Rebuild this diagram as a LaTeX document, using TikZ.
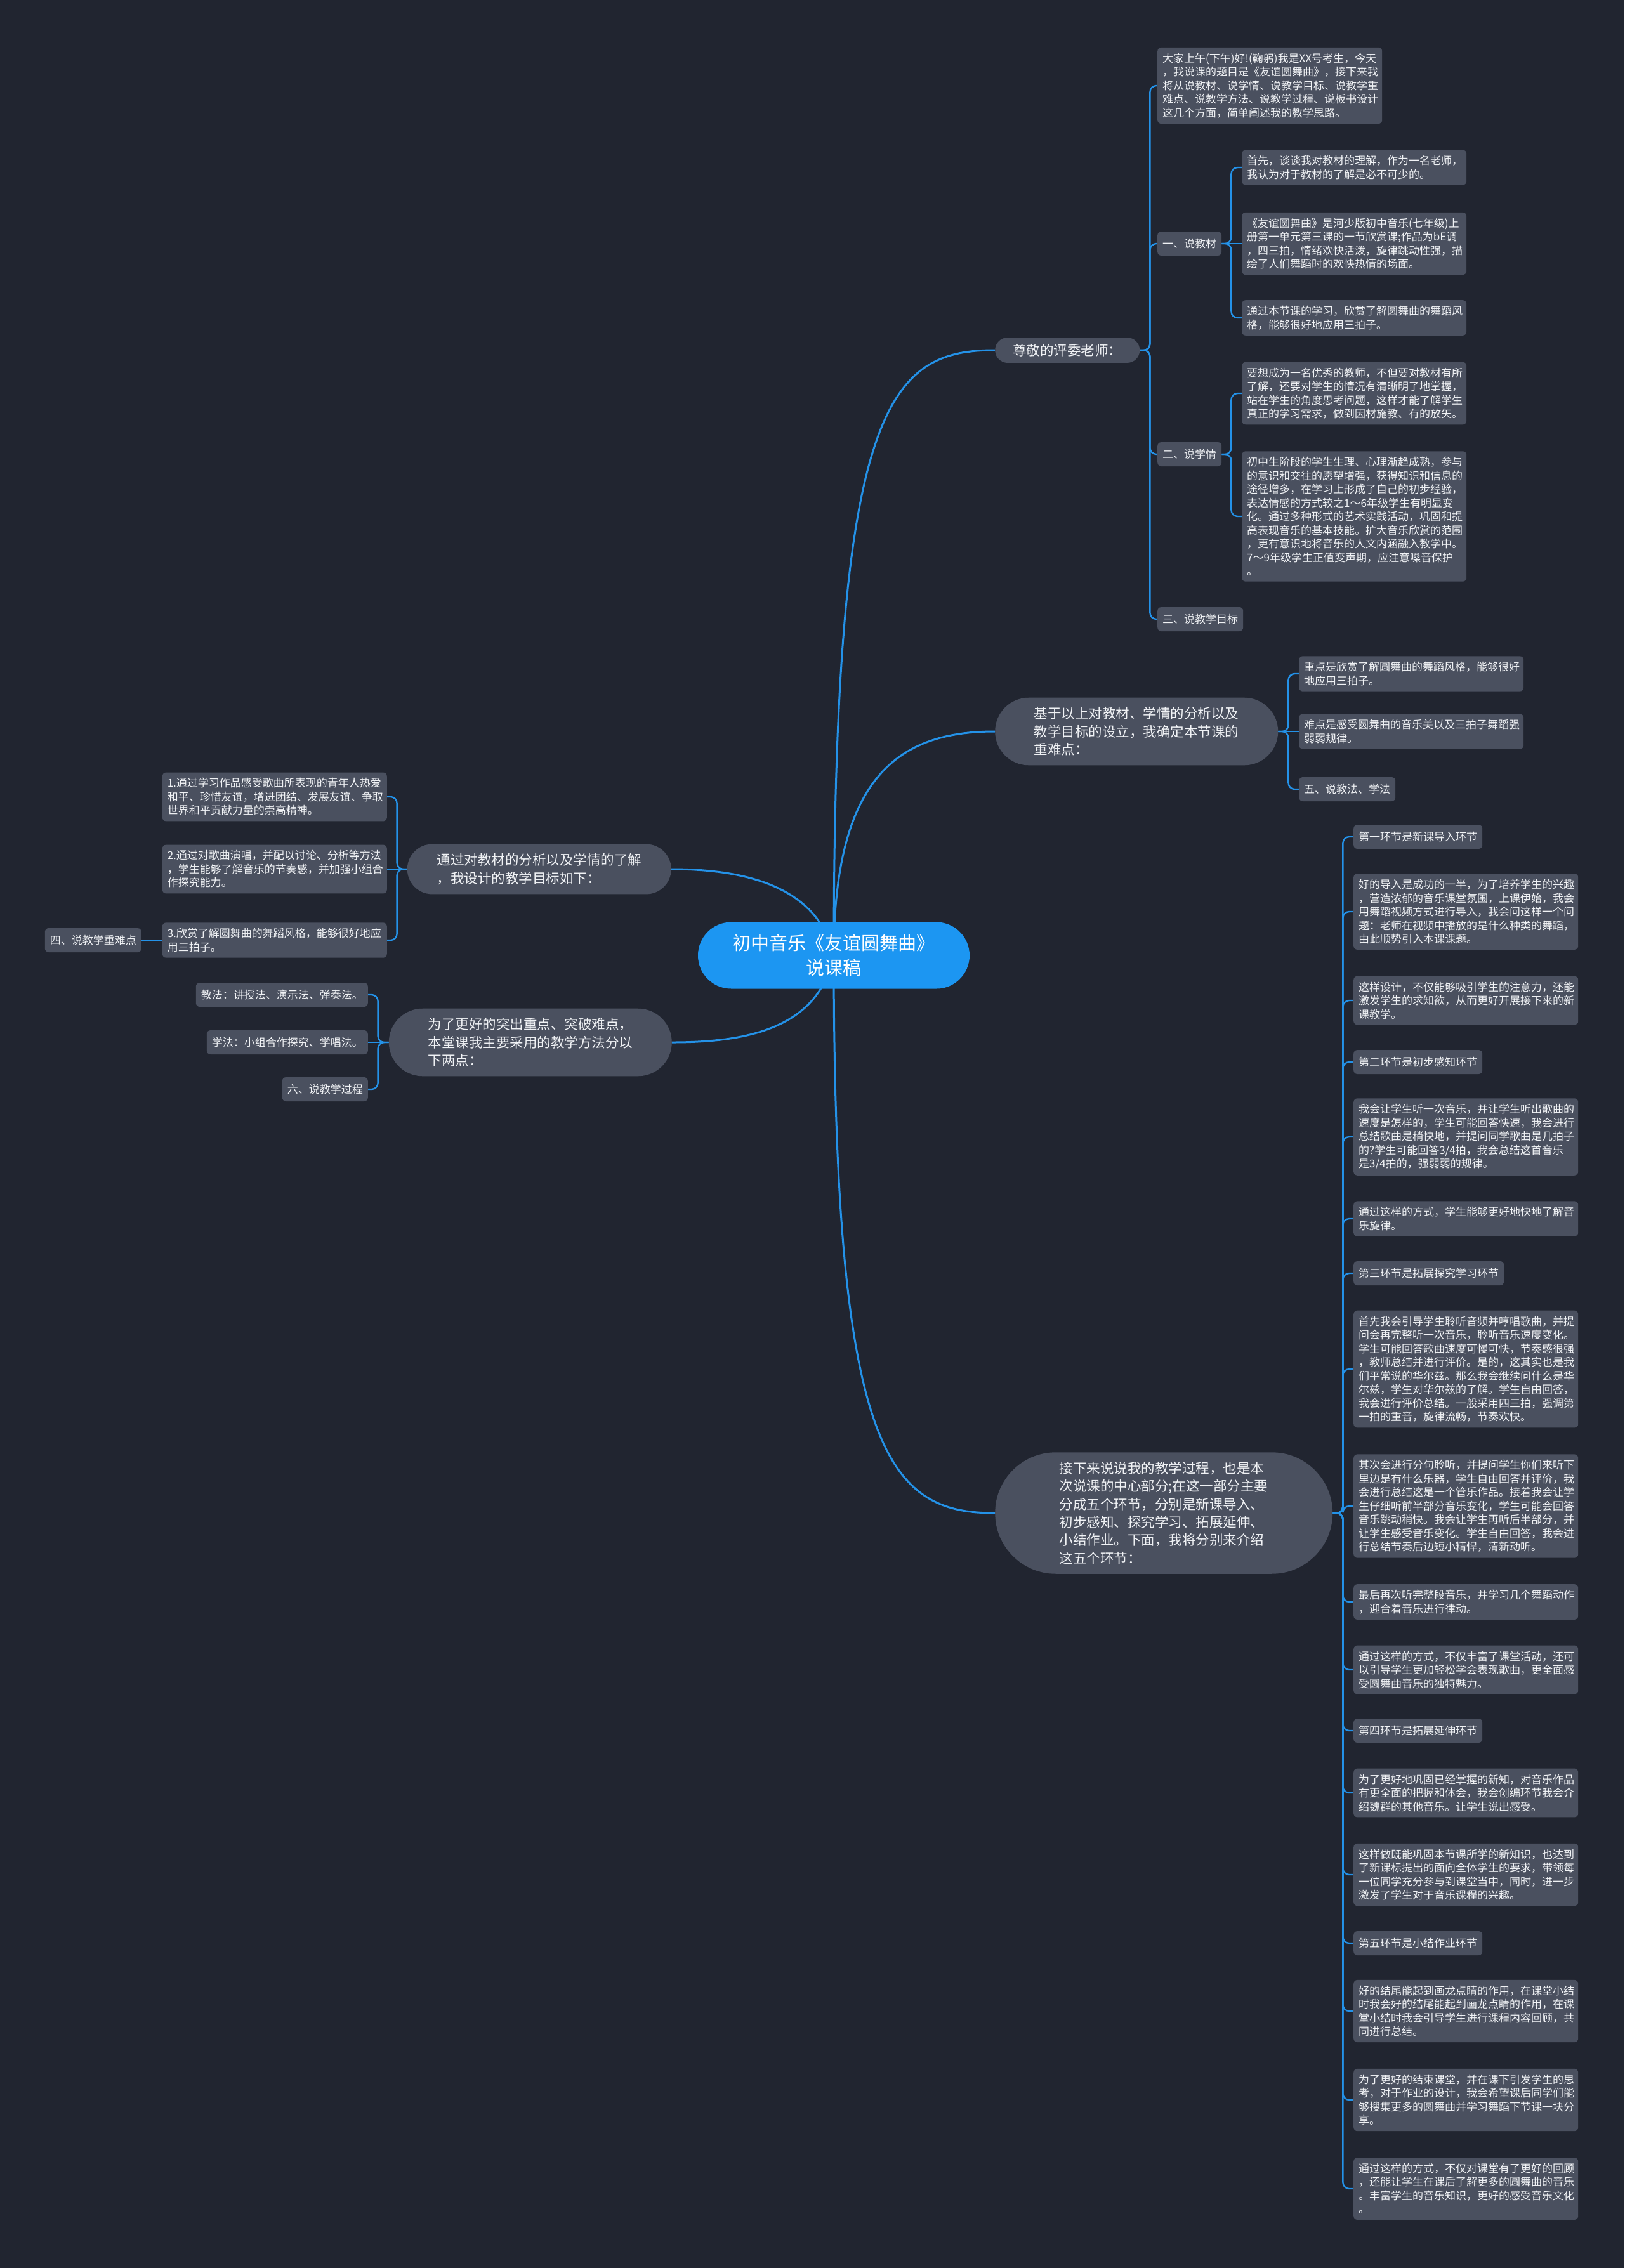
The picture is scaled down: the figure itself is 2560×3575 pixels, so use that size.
\documentclass[tikz,border=0pt]{standalone}
\usepackage{fontspec}
\setmainfont{Noto Sans CJK SC}
\usetikzlibrary{shapes.misc,backgrounds}
\definecolor{pagebg}{RGB}{33,37,48}
\definecolor{boxfill}{RGB}{74,80,95}
\definecolor{rootfill}{RGB}{28,150,242}
\definecolor{linkcol}{RGB}{36,146,232}
\definecolor{txtcol}{RGB}{240,242,245}
\newcommand{\smallfs}{\fontsize{17pt}{21.5pt}\selectfont}
\newcommand{\midfs}{\fontsize{21.5pt}{28.3pt}\selectfont}
\newcommand{\rootfs}{\fontsize{29pt}{39pt}\selectfont}
\tikzset{
  leaf/.style={fill=boxfill, text=txtcol, rounded corners=6pt, align=left,
    inner xsep=8pt, inner ysep=9pt, minimum height=38pt, font=\smallfs},
  note/.style={leaf, text width=338pt},
  topic/.style={rounded rectangle, fill=boxfill, text=txtcol, align=left,
    inner xsep=7pt, inner ysep=15pt, font=\midfs},
  rootnode/.style={rounded rectangle, fill=rootfill, text=white, align=center,
    inner xsep=15pt, inner ysep=14pt, minimum width=458pt, minimum height=105pt,
    font=\rootfs},
  branchln/.style={draw=linkcol, line width=2.4pt, rounded corners=10pt},
  mainln/.style={draw=linkcol, line width=3pt},
}
% parent, gap to the bus, children
\newcommand{\branchR}[3]{%
  \foreach \kid in {#3} {\draw[branchln] (#1.east) -- ++(#2,0) |- (\kid.west);}
}
\newcommand{\branchL}[3]{%
  \foreach \kid in {#3} {\draw[branchln] (#1.west) -- ++(-#2,0) |- (\kid.east);}
}

\begin{document}
\begin{tikzpicture}[x=1pt,y=-1pt]
  \useasboundingbox (0,0) rectangle (2560,3575);
  \begin{scope}[on background layer]
    \fill[pagebg] (0,0) rectangle (2560,3575);
  \end{scope}

  \node[rootnode] (root) at (1314,1506) {初中音乐《友谊圆舞曲》\\说课稿};

  % upper right branch
  \node[topic, inner ysep=10pt, minimum width=242pt, anchor=west] (zunjing) at (1568,552) {尊敬的评委老师：};
  \node[note, anchor=west] (intro) at (1824,135)
    {大家上午(下午)好!(鞠躬)我是XX号考生，今天\\，我说课的题目是《友谊圆舞曲》，接下来我\\将从说教材、说学情、说教学目标、说教学重\\难点、说教学方法、说教学过程、说板书设计\\这几个方面，简单阐述我的教学思路。};
  \node[leaf, anchor=west] (jiaocai) at (1824,384) {一、说教材};
  \node[note, anchor=west] (jc1) at (1957,264)
    {首先，谈谈我对教材的理解，作为一名老师，\\我认为对于教材的了解是必不可少的。};
  \node[note, anchor=west] (jc2) at (1957,384)
    {《友谊圆舞曲》是河少版初中音乐(七年级)上\\册第一单元第三课的一节欣赏课;作品为bE调\\，四三拍，情绪欢快活泼，旋律跳动性强，描\\绘了人们舞蹈时的欢快热情的场面。};
  \node[note, anchor=west] (jc3) at (1957,501)
    {通过本节课的学习，欣赏了解圆舞曲的舞蹈风\\格，能够很好地应用三拍子。};
  \node[leaf, anchor=west] (xueqing) at (1824,716) {二、说学情};
  \node[note, anchor=west] (xq1) at (1957,620)
    {要想成为一名优秀的教师，不但要对教材有所\\了解，还要对学生的情况有清晰明了地掌握，\\站在学生的角度思考问题，这样才能了解学生\\真正的学习需求，做到因材施教、有的放矢。};
  \node[note, anchor=west] (xq2) at (1957,814)
    {初中生阶段的学生生理、心理渐趋成熟，参与\\的意识和交往的愿望增强，获得知识和信息的\\途径增多，在学习上形成了自己的初步经验，\\表达情感的方式较之1～6年级学生有明显变\\化。通过多种形式的艺术实践活动，巩固和提\\高表现音乐的基本技能。扩大音乐欣赏的范围\\，更有意识地将音乐的人文内涵融入教学中。\\7～9年级学生正值变声期，应注意嗓音保护\\。};
  \node[leaf, anchor=west] (mubiao) at (1824,976) {三、说教学目标};

  % key and difficult points
  \node[topic, minimum width=460pt, anchor=west] (jiyu) at (1568,1153)
    {基于以上对教材、学情的分析以及\\教学目标的设立，我确定本节课的\\重难点：};
  \node[note, anchor=west] (zhongdian) at (2047,1062)
    {重点是欣赏了解圆舞曲的舞蹈风格，能够很好\\地应用三拍子。};
  \node[note, anchor=west] (nandian) at (2047,1153)
    {难点是感受圆舞曲的音乐美以及三拍子舞蹈强\\弱弱规律。};
  \node[leaf, anchor=west] (wufa) at (2047,1244) {五、说教法、学法};

  % left side
  \node[topic, minimum width=430pt, anchor=east] (goals) at (1058,1370)
    {通过对教材的分析以及学情的了解\\，我设计的教学目标如下：};
  \node[note, anchor=east] (goal1) at (610,1256)
    {1.通过学习作品感受歌曲所表现的青年人热爱\\和平、珍惜友谊，增进团结、发展友谊、争取\\世界和平贡献力量的崇高精神。};
  \node[note, anchor=east] (goal2) at (610,1370)
    {2.通过对歌曲演唱，并配以讨论、分析等方法\\，学生能够了解音乐的节奏感，并加强小组合\\作探究能力。};
  \node[note, anchor=east] (goal3) at (610,1482)
    {3.欣赏了解圆舞曲的舞蹈风格，能够很好地应\\用三拍子。};
  \node[leaf, anchor=east] (zhongnan) at (223,1482) {四、说教学重难点};
  \node[topic, minimum width=460pt, anchor=east] (methods) at (1059,1643)
    {为了更好的突出重点、突破难点，\\本堂课我主要采用的教学方法分以\\下两点：};
  \node[leaf, anchor=east] (teach) at (580,1568) {教法：讲授法、演示法、弹奏法。};
  \node[leaf, anchor=east] (learn) at (580,1643) {学法：小组合作探究、学唱法。};
  \node[leaf, anchor=east] (liufa) at (580,1717) {六、说教学过程};

  % teaching process
  \node[topic, minimum width=546pt, anchor=west] (process) at (1568,2385)
    {接下来说说我的教学过程，也是本\\次说课的中心部分;在这一部分主要\\分成五个环节，分别是新课导入、\\初步感知、探究学习、拓展延伸、\\小结作业。下面，我将分别来介绍\\这五个环节：};
  \node[leaf, anchor=west] (s1) at (2133,1319) {第一环节是新课导入环节};
  \node[note, anchor=west] (s2) at (2133,1437)
    {好的导入是成功的一半，为了培养学生的兴趣\\，营造浓郁的音乐课堂氛围，上课伊始，我会\\用舞蹈视频方式进行导入，我会问这样一个问\\题：老师在视频中播放的是什么种类的舞蹈，\\由此顺势引入本课课题。};
  \node[note, anchor=west] (s3) at (2133,1577)
    {这样设计，不仅能够吸引学生的注意力，还能\\激发学生的求知欲，从而更好开展接下来的新\\课教学。};
  \node[leaf, anchor=west] (s4) at (2133,1674) {第二环节是初步感知环节};
  \node[note, anchor=west] (s5) at (2133,1792)
    {我会让学生听一次音乐，并让学生听出歌曲的\\速度是怎样的，学生可能回答快速，我会进行\\总结歌曲是稍快地，并提问同学歌曲是几拍子\\的?学生可能回答3/4拍，我会总结这首音乐\\是3/4拍的，强弱弱的规律。};
  \node[note, anchor=west] (s6) at (2133,1921)
    {通过这样的方式，学生能够更好地快地了解音\\乐旋律。};
  \node[leaf, anchor=west] (s7) at (2133,2007) {第三环节是拓展探究学习环节};
  \node[note, anchor=west] (s8) at (2133,2158)
    {首先我会引导学生聆听音频并哼唱歌曲，并提\\问会再完整听一次音乐，聆听音乐速度变化。\\学生可能回答歌曲速度可慢可快，节奏感很强\\，教师总结并进行评价。是的，这其实也是我\\们平常说的华尔兹。那么我会继续问什么是华\\尔兹，学生对华尔兹的了解。学生自由回答，\\我会进行评价总结。一般采用四三拍，强调第\\一拍的重音，旋律流畅，节奏欢快。};
  \node[note, anchor=west] (s9) at (2133,2374)
    {其次会进行分句聆听，并提问学生你们来听下\\里边是有什么乐器，学生自由回答并评价，我\\会进行总结这是一个管乐作品。接着我会让学\\生仔细听前半部分音乐变化，学生可能会回答\\音乐跳动稍快。我会让学生再听后半部分，并\\让学生感受音乐变化。学生自由回答，我会进\\行总结节奏后边短小精悍，清新动听。};
  \node[note, anchor=west] (s10) at (2133,2525)
    {最后再次听完整段音乐，并学习几个舞蹈动作\\，迎合着音乐进行律动。};
  \node[note, anchor=west] (s11) at (2133,2632)
    {通过这样的方式，不仅丰富了课堂活动，还可\\以引导学生更加轻松学会表现歌曲，更全面感\\受圆舞曲音乐的独特魅力。};
  \node[leaf, anchor=west] (s12) at (2133,2728) {第四环节是拓展延伸环节};
  \node[note, anchor=west] (s13) at (2133,2826)
    {为了更好地巩固已经掌握的新知，对音乐作品\\有更全面的把握和体会，我会创编环节我会介\\绍魏群的其他音乐。让学生说出感受。};
  \node[note, anchor=west] (s14) at (2133,2955)
    {这样做既能巩固本节课所学的新知识，也达到\\了新课标提出的面向全体学生的要求，带领每\\一位同学充分参与到课堂当中，同时，进一步\\激发了学生对于音乐课程的兴趣。};
  \node[leaf, anchor=west] (s15) at (2133,3063) {第五环节是小结作业环节};
  \node[note, anchor=west] (s16) at (2133,3170)
    {好的结尾能起到画龙点睛的作用，在课堂小结\\时我会好的结尾能起到画龙点睛的作用，在课\\堂小结时我会引导学生进行课程内容回顾，共\\同进行总结。};
  \node[note, anchor=west] (s17) at (2133,3310)
    {为了更好的结束课堂，并在课下引发学生的思\\考，对于作业的设计，我会希望课后同学们能\\够搜集更多的圆舞曲并学习舞蹈下节课一块分\\享。};
  \node[note, anchor=west] (s18) at (2133,3450)
    {通过这样的方式，不仅对课堂有了更好的回顾\\，还能让学生在课后了解更多的圆舞曲的音乐\\。丰富学生的音乐知识，更好的感受音乐文化\\。};

  \begin{scope}[on background layer]
    \draw[mainln] (root.center) .. controls (1314,640) and (1400,552) .. (zunjing.west);
    \draw[mainln] (root.center) .. controls (1314,1220) and (1420,1153) .. (jiyu.west);
    \draw[mainln] (root.center) .. controls (1314,2290) and (1400,2385) .. (process.west);
    \draw[mainln] (root.center) .. controls (1290,1400) and (1180,1370) .. (goals.east);
    \draw[mainln] (root.center) .. controls (1290,1620) and (1180,1643) .. (methods.east);
    \branchR{zunjing}{16}{intro,jiaocai,xueqing,mubiao}
    \branchR{jiaocai}{15}{jc1,jc3}
    \draw[branchln] (jiaocai.east) -- (jc2.west);
    \branchR{xueqing}{15}{xq1,xq2}
    \branchR{jiyu}{16}{zhongdian,wufa}
    \draw[branchln] (jiyu.east) -- (nandian.west);
    \branchL{goals}{16}{goal1,goal3}
    \draw[branchln] (goals.west) -- (goal2.east);
    \draw[branchln] (goal3.west) -- (zhongnan.east);
    \branchL{methods}{17}{teach,liufa}
    \draw[branchln] (methods.west) -- (learn.east);
    \branchR{process}{16}{s1,s2,s3,s4,s5,s6,s7,s8,s9,s10,s11,s12,s13,s14,s15,s16,s17,s18}
  \end{scope}
\end{tikzpicture}
\end{document}
